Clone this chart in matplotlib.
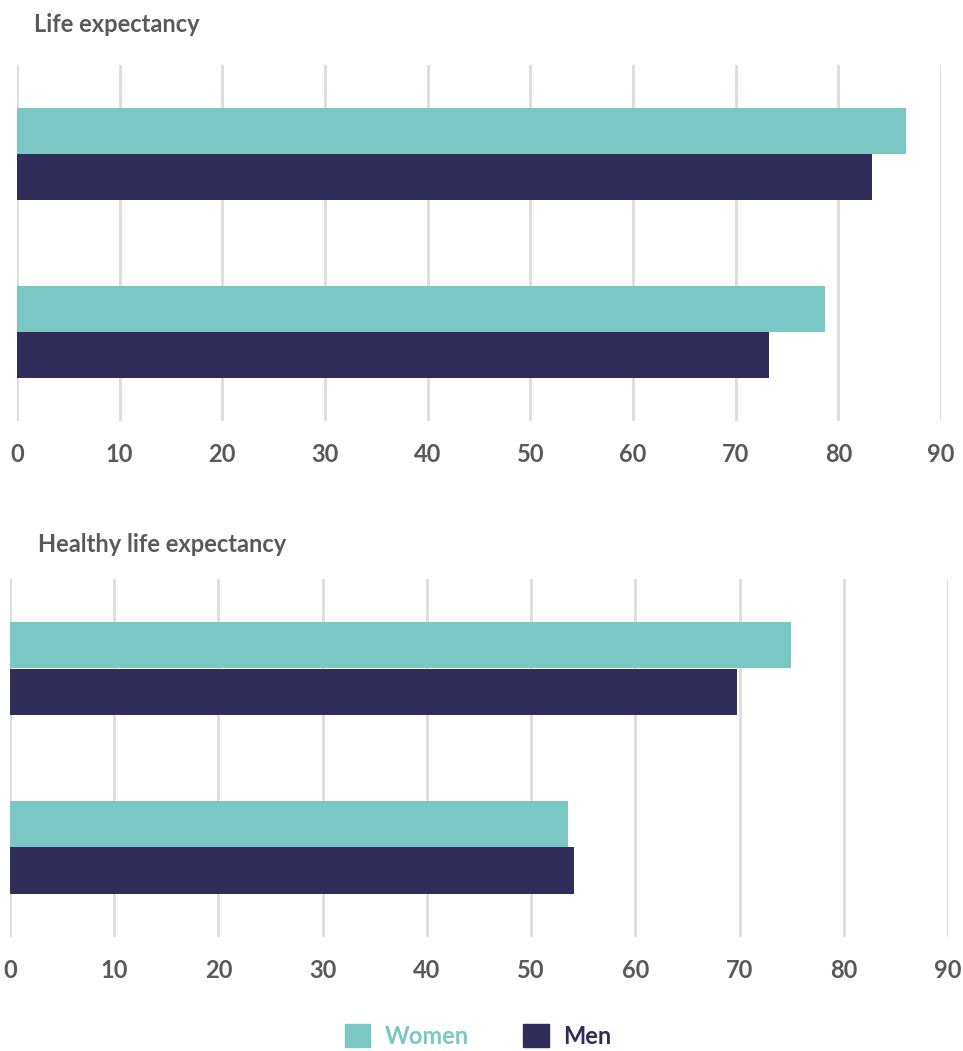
import matplotlib
matplotlib.use('Agg')
import matplotlib.pyplot as plt
from matplotlib.patches import Patch

plt.rcParams['font.family'] = ['Lato', 'DejaVu Sans']

# data (years)
groups = ['Group 1', 'Group 2']
life_women = [86.6, 78.7]
life_men = [83.3, 73.2]
healthy_women = [74.9, 53.5]
healthy_men = [69.8, 54.1]
ticks = [0, 10, 20, 30, 40, 50, 60, 70, 80, 90]

TEAL = '#7AC7C3'
NAVY = '#312D5B'
GRID = '#DCDCDC'
TEXT = '#595959'

W, H = 963, 1051
fig = plt.figure(figsize=(W / 100, H / 100), dpi=100)


def px_axes(left, right, top, bottom):
    """Add axes from pixel edges (top-left origin)."""
    return fig.add_axes([left / W, 1 - bottom / H, (right - left) / W, (bottom - top) / H])


def draw_panel(ax, women, men, title, title_xy):
    pos = list(range(len(women)))
    h = 0.26
    ax.barh([p - h / 2 for p in pos], women, height=h, color=TEAL, zorder=3)
    ax.barh([p + h / 2 for p in pos], men, height=h, color=NAVY, zorder=3)
    ax.set_xlim(0, 90)
    ax.set_ylim(len(women) - 0.5, -0.5)
    ax.set_xticks(ticks)
    ax.set_yticks([])
    ax.grid(axis='x', color=GRID, linewidth=2, zorder=0)
    for s in ax.spines.values():
        s.set_visible(False)
    ax.tick_params(axis='x', length=0, pad=16, labelsize=17, labelcolor=TEXT)
    for lab in ax.get_xticklabels():
        lab.set_fontweight('bold')
    fig.text(title_xy[0] / W, 1 - title_xy[1] / H, title, fontsize=17,
             fontweight='bold', color=TEXT, ha='left', va='center')


ax1 = px_axes(17, 941, 65, 421)
draw_panel(ax1, life_women, life_men, 'Life expectancy', (34, 24))

ax2 = px_axes(10, 948, 579, 937)
draw_panel(ax2, healthy_women, healthy_men, 'Healthy life expectancy', (38, 544))

handles = [Patch(color=TEAL, label='Women'), Patch(color=NAVY, label='Men')]
leg = fig.legend(handles=handles, loc='center', bbox_to_anchor=(478 / W, 1 - 1036 / H),
                 ncol=2, frameon=False, handlelength=1.1, handleheight=1.1,
                 handletextpad=0.6, columnspacing=2.3, prop={'size': 17, 'weight': 'bold'})
for txt, c in zip(leg.get_texts(), [TEAL, NAVY]):
    txt.set_color(c)

fig.savefig('out.png', dpi=100)
